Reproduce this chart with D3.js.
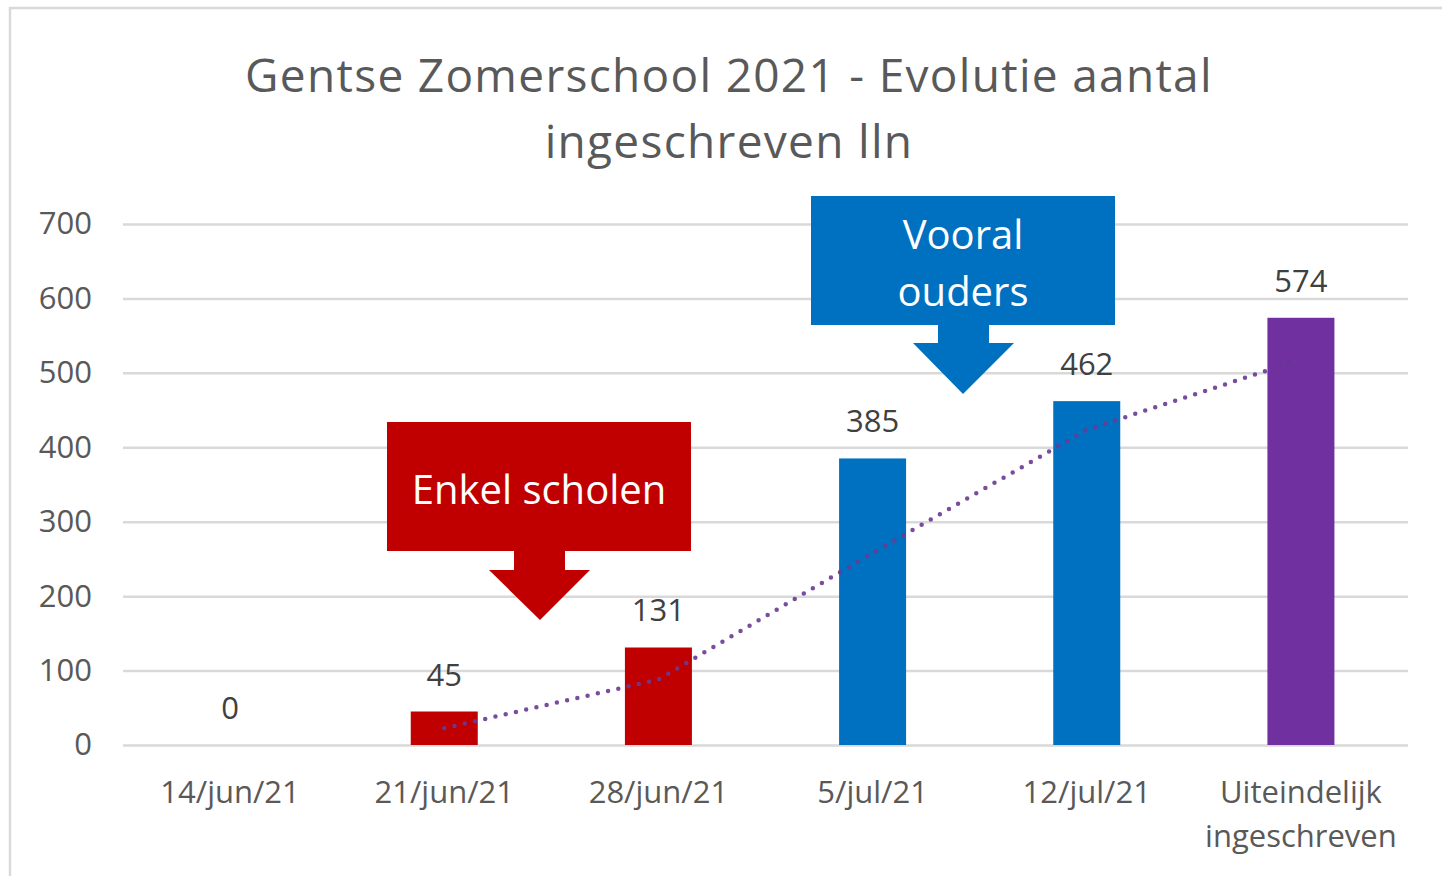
<!DOCTYPE html>
<html>
<head>
<meta charset="utf-8">
<script src="https://cdn.jsdelivr.net/npm/d3@7"></script>
<style>
  html, body { margin: 0; padding: 0; background: #fff; }
  svg { display: block; font-family: "Open Sans", sans-serif; }
</style>
</head>
<body>
<div id="chart"></div>
<script>
// Data
const categories = ["14/jun/21", "21/jun/21", "28/jun/21", "5/jul/21", "12/jul/21", "Uiteindelijk ingeschreven"]
const values = [0, 45, 131, 385, 462, 574]
const barColors = ["#C00000", "#C00000", "#C00000", "#0070C0", "#0070C0", "#7030A0"]
const yTicks = [0, 100, 200, 300, 400, 500, 600, 700]
// 2-period moving average trendline (from category 2 on)
const trendValues = [22.5, 88, 258, 423.5, 518]
const titleLines = ["Gentse Zomerschool 2021 - Evolutie aantal", "ingeschreven lln"]

const W = 1442, H = 876
const plot = { left: 123, right: 1408, top: 224, bottom: 745 }
const FONT = "Open Sans, sans-serif"

const svg = d3.select("#chart").append("svg")
    .attr("width", W)
    .attr("height", H)

// chart border
svg.append("rect")
    .attr("x", 10).attr("y", 8)
    .attr("width", W + 20).attr("height", H + 20)
    .attr("fill", "#fff")
    .attr("stroke", "#d9d9d9")
    .attr("stroke-width", 2.5)

// Title
svg.append("g")
    .selectAll("text")
    .data(titleLines)
    .enter()
    .append("text")
    .attr("x", 729)
    .attr("y", (d, i) => 92 + i * 66)
    .attr("text-anchor", "middle")
    .attr("font-size", 46)
    .attr("letter-spacing", 1.3)
    .attr("fill", "#595959")
    .text(d => d)

// Scales
const x = d3.scaleBand()
    .domain(categories)
    .range([plot.left, plot.right])
    .padding(0)

const y = d3.scaleLinear()
    .domain([0, 700])
    .range([plot.bottom, plot.top])

const barW = 67

// Y axis with gridlines
const yAxis = svg.append("g")
    .attr("transform", "translate(" + plot.left + ",0)")
    .call(d3.axisLeft(y).tickValues(yTicks).tickSize(-(plot.right - plot.left)).tickPadding(31))

yAxis.select(".domain").remove()
yAxis.selectAll(".tick line").attr("stroke", "#d9d9d9").attr("stroke-width", 2.5)
yAxis.selectAll(".tick text")
    .attr("font-size", 31)
    .attr("font-family", FONT)
    .attr("fill", "#595959")

// X axis labels
const xAxis = svg.append("g")
    .attr("transform", "translate(0," + plot.bottom + ")")
    .call(d3.axisBottom(x).tickSize(0).tickFormat(""))
xAxis.select(".domain").remove()

xAxis.selectAll(".tick")
    .append("text")
    .attr("text-anchor", "middle")
    .attr("font-size", 31)
    .attr("font-family", FONT)
    .attr("fill", "#595959")
    .each(function (d) {
        const words = d.split(" ")
        d3.select(this).selectAll("tspan")
            .data(words)
            .enter()
            .append("tspan")
            .attr("x", 0)
            .attr("y", (w, i) => 58 + i * 44)
            .text(w => w)
    })

// Bars
svg.append("g")
    .selectAll("rect")
    .data(values)
    .enter()
    .append("rect")
    .attr("x", (d, i) => x(categories[i]) + x.bandwidth() / 2 - barW / 2)
    .attr("y", d => y(d))
    .attr("width", barW)
    .attr("height", d => y(0) - y(d))
    .attr("fill", (d, i) => barColors[i])

// Trendline (moving average, dotted)
const trendLine = d3.line()
    .x((d, i) => x(categories[i + 1]) + x.bandwidth() / 2)
    .y(d => y(d))

svg.append("path")
    .datum(trendValues)
    .attr("d", trendLine)
    .attr("fill", "none")
    .attr("stroke", "#6a3a94")
    .attr("stroke-width", 4.5)
    .attr("stroke-linecap", "round")
    .attr("stroke-dasharray", "0 10.5")
    .attr("opacity", 0.9)

// Data labels
svg.append("g")
    .selectAll("text")
    .data(values)
    .enter()
    .append("text")
    .attr("x", (d, i) => x(categories[i]) + x.bandwidth() / 2)
    .attr("y", d => y(d) - 26)
    .attr("text-anchor", "middle")
    .attr("font-size", 31)
    .attr("fill", "#404040")
    .text(d => d)

// Callouts
function callout(box, stem, head, color, lines, lineY) {
    const g = svg.append("g")
    const p = d3.path()
    p.moveTo(box.x0, box.y0)
    p.lineTo(box.x1, box.y0)
    p.lineTo(box.x1, box.y1)
    p.lineTo(stem.x1, box.y1)
    p.lineTo(stem.x1, stem.y)
    p.lineTo(head.x1, stem.y)
    p.lineTo(head.tx, head.ty)
    p.lineTo(head.x0, stem.y)
    p.lineTo(stem.x0, stem.y)
    p.lineTo(stem.x0, box.y1)
    p.lineTo(box.x0, box.y1)
    p.closePath()
    g.append("path").attr("d", p.toString()).attr("fill", color)

    g.selectAll("text")
        .data(lines)
        .enter()
        .append("text")
        .attr("x", (box.x0 + box.x1) / 2)
        .attr("y", (d, i) => lineY[i])
        .attr("text-anchor", "middle")
        .attr("font-size", 40)
        .attr("fill", "#fff")
        .text(d => d)
}

callout({ x0: 387, x1: 691, y0: 422, y1: 551 },
        { x0: 514, x1: 565, y: 570 },
        { x0: 489, x1: 590, tx: 540, ty: 620 },
        "#C00000", ["Enkel scholen"], [504])

callout({ x0: 811, x1: 1115, y0: 196, y1: 325 },
        { x0: 938, x1: 989, y: 343 },
        { x0: 913, x1: 1014, tx: 963, ty: 394 },
        "#0070C0", ["Vooral", "ouders"], [249, 306])
</script>
</body>
</html>
